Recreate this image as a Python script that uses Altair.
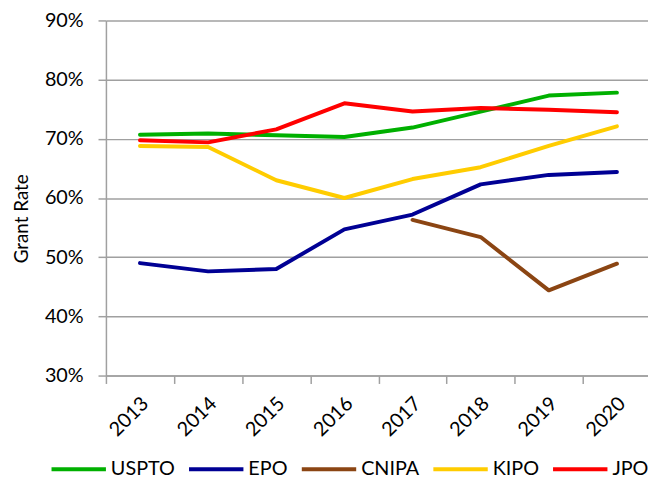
import altair as alt
import pandas as pd

years = ["2013", "2014", "2015", "2016", "2017", "2018", "2019", "2020"]
offices = ["USPTO", "EPO", "CNIPA", "KIPO", "JPO"]
colors = ["#00b000", "#000094", "#8b4513", "#ffcc00", "#ff0000"]

uspto = [70.7, 70.9, 70.6, 70.3, 71.9, 74.6, 77.3, 77.8]
epo = [49.0, 47.6, 48.0, 54.7, 57.2, 62.3, 63.9, 64.4]
cnipa = [None, None, None, None, 56.3, 53.4, 44.4, 48.9]
kipo = [68.8, 68.6, 63.0, 60.0, 63.2, 65.2, 68.8, 72.1]
jpo = [69.75, 69.4, 71.6, 76.0, 74.6, 75.2, 74.9, 74.5]

y_ticks = [30, 40, 50, 60, 70, 80, 90]

series = {"USPTO": uspto, "EPO": epo, "CNIPA": cnipa, "KIPO": kipo, "JPO": jpo}
rows = []
for off in offices:
    for yr, v in zip(years, series[off]):
        if v is not None:
            rows.append({"year": yr, "office": off, "rate": v})
df = pd.DataFrame(rows)

grey = "#a0a0a0"

chart = alt.Chart(df).mark_line(
    strokeWidth=4, strokeCap="round", strokeJoin="round"
).encode(
    x=alt.X(
        "year:N",
        sort=years,
        scale=alt.Scale(range=[0, 551], paddingInner=0, paddingOuter=0),
        axis=alt.Axis(
            title=None,
            labelAngle=-45,
            labelAlign="right",
            labelBaseline="middle",
            labelPadding=17,
            labelOffset=5,
            tickBand="extent",
            tickSize=8,
            tickColor=grey,
            tickWidth=1.5,
            domainColor=grey,
            domainWidth=1.5,
            grid=False,
            labelFontSize=20,
            labelColor="black",
        ),
    ),
    y=alt.Y(
        "rate:Q",
        scale=alt.Scale(domain=[30, 90], nice=False, zero=False),
        axis=alt.Axis(
            values=y_ticks,
            labelExpr="datum.value + '%'",
            title="Grant Rate",
            titleFontSize=19,
            titleFontWeight="normal",
            titleColor="black",
            titleAngle=270,
            titleAlign="center",
            titleBaseline="middle",
            titleX=-85,
            titleY=200,
            tickSize=8,
            tickColor=grey,
            tickWidth=1.5,
            domainColor=grey,
            domainWidth=1.5,
            gridColor=grey,
            gridWidth=1.5,
            labelPadding=15,
            labelFontSize=20,
            labelColor="black",
        ),
    ),
    color=alt.Color(
        "office:N",
        sort=offices,
        scale=alt.Scale(domain=offices, range=colors),
        legend=alt.Legend(
            title=None,
            orient="none",
            legendX=-57,
            legendY=424,
            direction="horizontal",
            symbolType="stroke",
            symbolSize=3025,
            symbolStrokeWidth=4,
            labelFontSize=20,
            labelOffset=3,
            columnPadding=6,
            labelColor="black",
        ),
    ),
).properties(
    width=548,
    height=359,
    autosize=alt.AutoSizeParams(type="none"),
    padding={"left": 99, "top": 10, "right": 0, "bottom": 101},
).configure(
    font="Lato"
).configure_view(
    stroke=None
)

chart.save("out.html", embed_options={"renderer": "svg", "actions": False})
